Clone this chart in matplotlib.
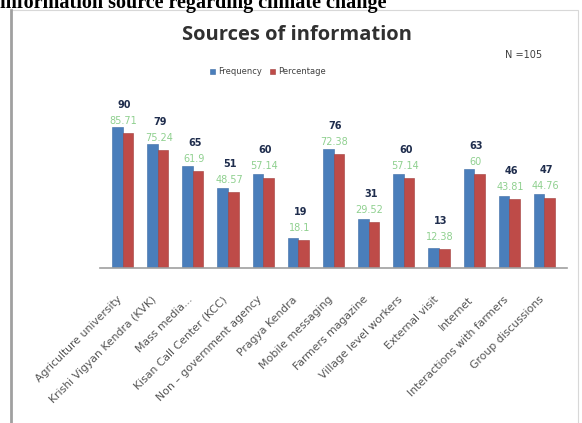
import matplotlib.pyplot as plt
import matplotlib.transforms as mtransforms
import numpy as np
from matplotlib.patches import Rectangle
from matplotlib.lines import Line2D

sources = ['Agriculture university', 'Krishi Vigyan Kendra (KVK)', 'Mass media...',
           'Kisan Call Center (KCC)', 'Non – government agency', 'Pragya Kendra',
           'Mobile messaging', 'Farmers magazine', 'Village level workers',
           'External visit', 'Internet', 'Interactions with farmers', 'Group discussions']
frequency = [90, 79, 65, 51, 60, 19, 76, 31, 60, 13, 63, 46, 47]
percentage = [85.71, 75.24, 61.9, 48.57, 57.14, 18.1, 72.38, 29.52, 57.14, 12.38, 60, 43.81, 44.76]

blue = '#4a7ebb'
red = '#be4b48'
green = '#8fd08f'

fig = plt.figure(figsize=(5.82, 4.23), dpi=100)
W, H = 582, 423

# caption of the document, cut off at the top edge
fig.text(0.0, 1 - 8 / H, 'information source regarding climate change', fontsize=14.5,
         fontweight='bold', family='Liberation Serif', ha='left', va='baseline')

# chart frame
fig.patches.append(Rectangle((11 / W, -0.05), 567 / W, 1.05 - 10 / H, transform=fig.transFigure,
                             fill=False, edgecolor='#d8d8d8', linewidth=0.8))
fig.lines.append(Line2D([11 / W, 11 / W], [0, 1 - 10 / H], transform=fig.transFigure,
                        color='#a0a0a0', linewidth=2))

ax = fig.add_axes([105 / W, 1 - 268 / H, 457 / W, 157 / H])
x = np.arange(len(sources))
bw = 0.3
ax.bar(x - bw / 2, frequency, width=bw, color=blue, edgecolor='#3a6aa5', linewidth=0.4,
       label='Frequency')
ax.bar(x + bw / 2, percentage, width=bw, color=red, edgecolor='#a03c3a', linewidth=0.4,
       label='Percentage')

for i in range(len(sources)):
    ax.annotate(str(frequency[i]), (x[i], percentage[i]), xytext=(2, 28), textcoords='offset pixels',
                ha='center', va='center', fontsize=7, fontweight='bold', color='#1f2d4d')
    ax.annotate('{:g}'.format(percentage[i]), (x[i], percentage[i]), xytext=(1, 12),
                textcoords='offset pixels', ha='center', va='center', fontsize=7, color=green)

ax.set_xlim(-0.5, len(sources) - 0.5)
ax.set_ylim(0, 100)
ax.set_yticks([])
ax.set_xticks(x)
ax.set_xticklabels(sources, rotation=45, ha='right', rotation_mode='anchor', fontsize=7.8,
                   color='#555555')
ax.tick_params(axis='x', length=0, pad=19)
shift = mtransforms.ScaledTranslation(-6 / 100, 0, fig.dpi_scale_trans)
for lab in ax.get_xticklabels():
    lab.set_transform(lab.get_transform() + shift)
for s in ax.spines.values():
    s.set_visible(False)
ax.axhline(0, color='#a0a0a0', linewidth=1.2, xmin=-0.01, xmax=1.01, clip_on=False)
ax.patch.set_alpha(0)

fig.text(297 / W, 1 - 35 / H, 'Sources of information', fontsize=14.5, fontweight='bold',
         family='Open Sans', color='#303030', ha='center', va='center')
fig.text(505 / W, 1 - 55 / H, 'N =105', fontsize=7, color='#404040', ha='left', va='center')
fig.legend(loc='center', bbox_to_anchor=(268 / W, 1 - 72 / H), ncol=2, frameon=False,
           fontsize=6, handlelength=0.6, handleheight=0.6, handletextpad=0.4,
           columnspacing=1.0, labelcolor='#404040')

fig.savefig('out.png', dpi=100)
